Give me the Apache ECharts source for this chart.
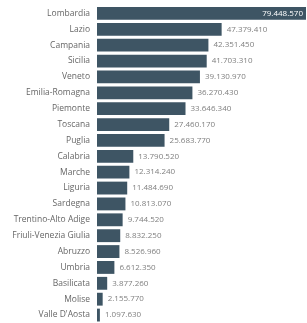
<!DOCTYPE html>
<html lang="it">
<head>
    <meta charset="UTF-8">
    <title>Regioni</title>
    <script src="https://cdn.jsdelivr.net/npm/echarts@6/dist/echarts.min.js"></script>
    <style>
        html, body { margin: 0; padding: 0; background: #fff; }
    </style>
</head>
<body>
<div id="main" style="width: 307px;height:323px;"></div>
<script>
    var regioni = ['Lombardia', 'Lazio', 'Campania', 'Sicilia', 'Veneto', 'Emilia-Romagna', 'Piemonte',
        'Toscana', 'Puglia', 'Calabria', 'Marche', 'Liguria', 'Sardegna', 'Trentino-Alto Adige',
        'Friuli-Venezia Giulia', 'Abruzzo', 'Umbria', 'Basilicata', 'Molise', "Valle D'Aosta"];
    var valori = [79448570, 47379410, 42351450, 41703310, 39130970, 36270430, 33646340,
        27460170, 25683770, 13790520, 12314240, 11484690, 10813070, 9744520,
        8832250, 8526960, 6612350, 3877260, 2155770, 1097630];

    function fmt(v) {
        return String(v).replace(/\B(?=(\d{3})+(?!\d))/g, '.');
    }

    var myChart = echarts.init(document.getElementById('main'));

    var dati = valori.map(function (v, i) {
        var d = {value: v};
        if (i === 0) {
            d.label = {position: 'insideRight', color: '#fff', distance: 3};
        }
        return d;
    });

    option = {
        backgroundColor: '#fff',
        animation: false,
        grid: {
            left: 97,
            right: 1,
            top: 5.5,
            height: 321
        },
        xAxis: {
            type: 'value',
            min: 0,
            max: 'dataMax',
            show: false
        },
        yAxis: {
            type: 'category',
            data: regioni,
            inverse: true,
            axisLine: {show: false},
            axisTick: {show: false},
            axisLabel: {
                color: '#666',
                fontFamily: 'Open Sans',
                fontSize: 8.5,
                margin: 7
            }
        },
        series: [
            {
                type: 'bar',
                data: dati,
                barCategoryGap: '19%',
                itemStyle: {color: '#3e5564'},
                label: {
                    show: true,
                    position: 'right',
                    distance: 5,
                    color: '#808080',
                    fontFamily: 'Open Sans',
                    fontSize: 8,
                    formatter: function (p) {
                        return fmt(p.value);
                    }
                }
            }
        ]
    };
    myChart.setOption(option);
</script>
</body>
</html>
